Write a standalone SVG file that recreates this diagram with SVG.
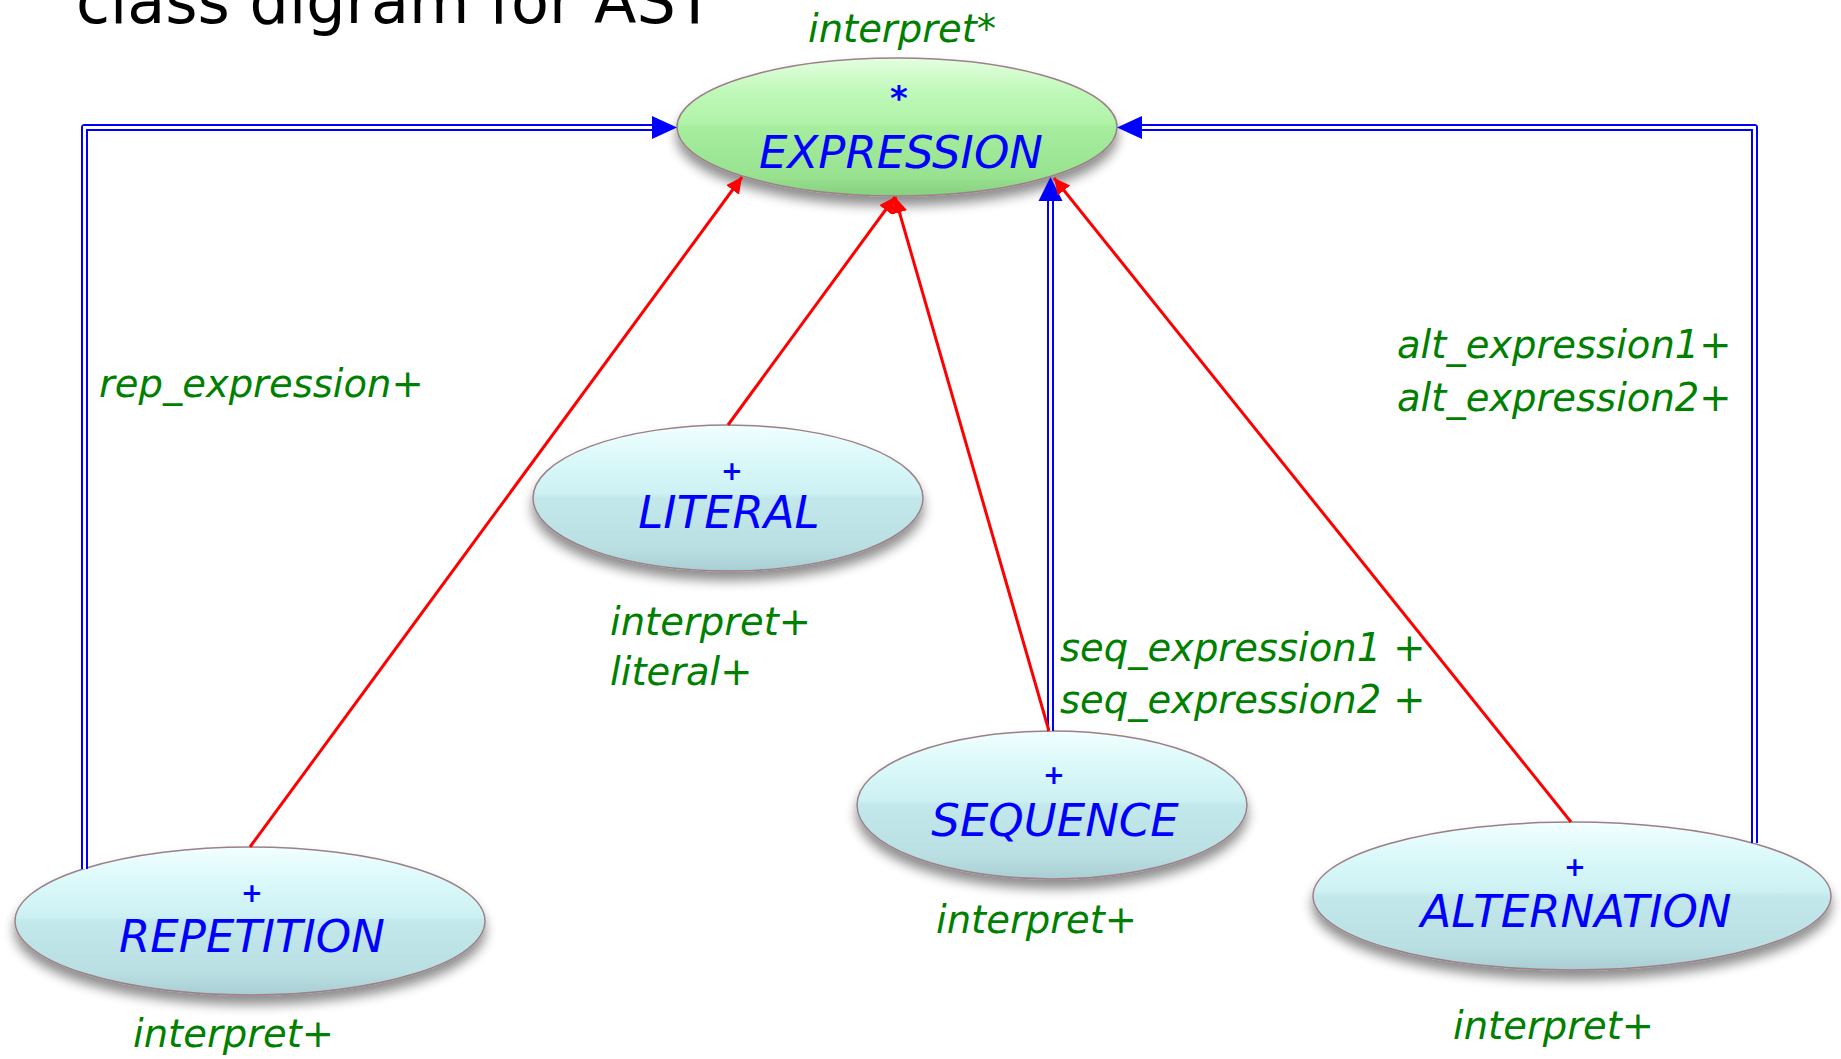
<svg xmlns="http://www.w3.org/2000/svg" width="1841" height="1059" viewBox="0 0 1841 1059">
  <defs>
    <style>
      .title { font-family: "DejaVu Sans", "Liberation Sans", sans-serif; font-size: 62px; fill: #000; }
      .cls { font-family: "DejaVu Sans", "Liberation Sans", sans-serif; font-style: oblique; font-size: 45px; fill: #0000ff; text-anchor: middle; }
      .mark { font-family: "DejaVu Sans", "Liberation Sans", sans-serif; font-style: oblique; font-weight: bold; font-size: 26px; fill: #0000ff; text-anchor: middle; }
      .feat { font-family: "DejaVu Sans", "Liberation Sans", sans-serif; font-style: oblique; font-size: 38.5px; fill: #008000; }
      .shell { stroke: #9c8088; stroke-width: 1.5; }
      .inherit-outer { fill: none; stroke: #0000ff; stroke-width: 7; stroke-linejoin: round; }
      .inherit-inner { fill: none; stroke: #ffffff; stroke-width: 3; stroke-linejoin: miter; }
      .client { fill: none; stroke: #ff0000; stroke-width: 3; }
      .blue-head { fill: #0000ff; }
    </style>
    <linearGradient id="cyanFill" x1="0" y1="0" x2="0" y2="1">
      <stop offset="0" stop-color="#f2ffff"/>
      <stop offset="0.25" stop-color="#d9f8f9"/>
      <stop offset="0.47" stop-color="#cdf1f3"/>
      <stop offset="0.5" stop-color="#c2e8ec"/>
      <stop offset="0.85" stop-color="#b9dfe3"/>
      <stop offset="1" stop-color="#a9cdd2"/>
    </linearGradient>
    <linearGradient id="greenFill" x1="0" y1="0" x2="0" y2="1">
      <stop offset="0" stop-color="#e4ffe0"/>
      <stop offset="0.25" stop-color="#bff8b8"/>
      <stop offset="0.47" stop-color="#b0f3a8"/>
      <stop offset="0.5" stop-color="#a6ee9e"/>
      <stop offset="0.85" stop-color="#98e290"/>
      <stop offset="1" stop-color="#88cf80"/>
    </linearGradient>
    <filter id="dropShadow" x="-10%" y="-20%" width="120%" height="150%">
      <feGaussianBlur in="SourceAlpha" stdDeviation="6"/>
      <feOffset dx="0" dy="9" result="blur"/>
      <feComponentTransfer>
        <feFuncA type="linear" slope="0.45"/>
      </feComponentTransfer>
      <feMerge>
        <feMergeNode/>
        <feMergeNode in="SourceGraphic"/>
      </feMerge>
    </filter>
    <marker id="redHead" markerUnits="userSpaceOnUse" markerWidth="20" markerHeight="20" refX="16" refY="8" orient="auto">
      <path d="M0,0 L16,8 L0,16 Z" fill="#ff0000"/>
    </marker>
  </defs>

  <rect width="1841" height="1059" fill="#ffffff"/>

  <!-- slide heading, partly above the top edge -->
  <text class="title" x="76" y="23">class digram for AST</text>

  <!-- classes -->
  <g id="expression">
    <ellipse class="shell" cx="897" cy="127" rx="220" ry="69" fill="url(#greenFill)" filter="url(#dropShadow)"/>
    <text class="mark" x="899" y="110" style="font-size:34px">*</text>
    <text class="cls" x="901" y="168">EXPRESSION</text>
    <text class="feat" x="902" y="42" text-anchor="middle">interpret*</text>
  </g>

  <g id="literal">
    <ellipse class="shell" cx="728" cy="498" rx="195" ry="73" fill="url(#cyanFill)" filter="url(#dropShadow)"/>
    <text class="mark" x="732" y="480">+</text>
    <text class="cls" x="729" y="528">LITERAL</text>
    <text class="feat" x="610" y="635">interpret+</text>
    <text class="feat" x="610" y="685">literal+</text>
  </g>

  <g id="repetition">
    <ellipse class="shell" cx="250" cy="921" rx="235" ry="74" fill="url(#cyanFill)" filter="url(#dropShadow)"/>
    <text class="mark" x="252" y="902">+</text>
    <text class="cls" x="252" y="952">REPETITION</text>
    <text class="feat" x="133" y="1047">interpret+</text>
  </g>

  <g id="sequence">
    <ellipse class="shell" cx="1052" cy="805" rx="195" ry="74" fill="url(#cyanFill)" filter="url(#dropShadow)"/>
    <text class="mark" x="1054" y="784">+</text>
    <text class="cls" x="1055" y="836">SEQUENCE</text>
    <text class="feat" x="936" y="933">interpret+</text>
  </g>

  <g id="alternation">
    <ellipse class="shell" cx="1572" cy="896" rx="259" ry="74" fill="url(#cyanFill)" filter="url(#dropShadow)"/>
    <text class="mark" x="1575" y="876">+</text>
    <text class="cls" x="1576" y="927">ALTERNATION</text>
    <text class="feat" x="1453" y="1039">interpret+</text>
  </g>

  <!-- connectors: double blue = inheritance, red = client -->
  <g id="connectors">
    <!-- REPETITION inherits EXPRESSION -->
    <path class="inherit-outer" d="M84.5,869 V127.5 H655"/>
    <path class="inherit-inner" d="M84.5,869 V127.5 H655"/>
    <polygon class="blue-head" points="677,127.5 652,116 652,139"/>

    <!-- ALTERNATION inherits EXPRESSION -->
    <path class="inherit-outer" d="M1754.5,843 V127.5 H1139"/>
    <path class="inherit-inner" d="M1754.5,843 V127.5 H1139"/>
    <polygon class="blue-head" points="1117,127.5 1142,116 1142,139"/>

    <!-- SEQUENCE inherits EXPRESSION -->
    <path class="inherit-outer" d="M1050.5,731 V199"/>
    <path class="inherit-inner" d="M1050.5,731 V199"/>
    <polygon class="blue-head" points="1050.5,177 1038.5,201 1062.5,201"/>

    <!-- client links -->
    <line class="client" x1="250" y1="847" x2="742" y2="177" marker-end="url(#redHead)"/>
    <line class="client" x1="728" y1="425" x2="895" y2="197" marker-end="url(#redHead)"/>
    <line class="client" x1="1049" y1="731" x2="895" y2="197" marker-end="url(#redHead)"/>
    <line class="client" x1="1571" y1="822" x2="1054" y2="178" marker-end="url(#redHead)"/>
  </g>

  <!-- link labels -->
  <g id="labels">
    <text class="feat" x="99" y="397">rep_expression+</text>
    <text class="feat" x="1397" y="358">alt_expression1+</text>
    <text class="feat" x="1397" y="411">alt_expression2+</text>
    <text class="feat" x="1060" y="661">seq_expression1 +</text>
    <text class="feat" x="1060" y="713">seq_expression2 +</text>
  </g>
</svg>
